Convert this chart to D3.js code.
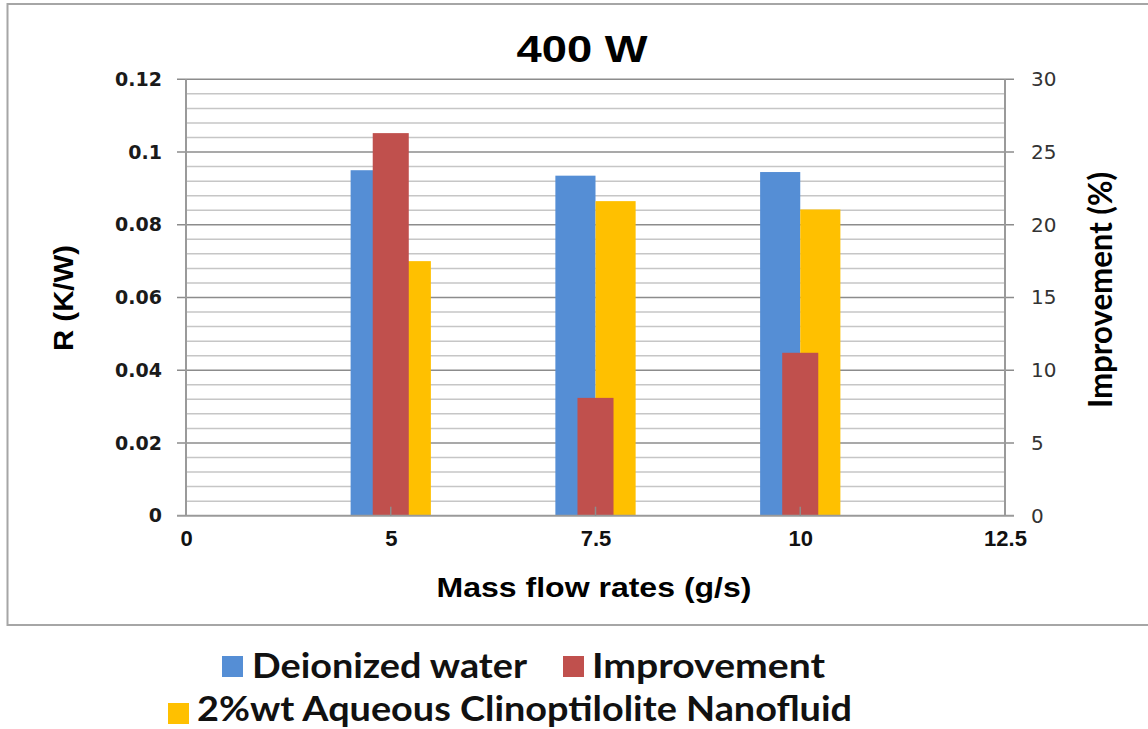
<!DOCTYPE html>
<html>
<head>
<meta charset="utf-8">
<script src="https://cdn.jsdelivr.net/npm/d3@7"></script>
<style>
  html, body { margin: 0; padding: 0; background: #fff; }
  svg { display: block; }
</style>
</head>
<body>
<svg id="chart" width="1148" height="729"></svg>
<script>
// Thermal resistance at 400 W versus mass flow rate
const categories = ["0", "5", "7.5", "10", "12.5"];
const deionizedWater = [null, 0.095, 0.0935, 0.0945, null];
const nanofluid = [null, 0.070, 0.0865, 0.0842, null];
const improvement = [null, 26.3, 8.1, 11.2, null];
const leftTicks = [0, 0.02, 0.04, 0.06, 0.08, 0.1, 0.12];
const leftTickLabels = ["0", "0.02", "0.04", "0.06", "0.08", "0.1", "0.12"];
const rightTicks = [0, 5, 10, 15, 20, 25, 30];

const colors = { water: "#558ED5", improvement: "#C0504D", nano: "#FFC000" };

const svg = d3.select("#chart");
const plot = { left: 186, right: 1005, top: 79.3, bottom: 515.7 };

// outer chart frame
svg.append("rect")
  .attr("x", 7.5).attr("y", 4).attr("width", 1150).attr("height", 621)
  .attr("fill", "#fff").attr("stroke", "#a6a6a6").attr("stroke-width", 2);

const x = d3.scalePoint().domain(categories).range([plot.left, plot.right]);
const yL = d3.scaleLinear().domain([0, 0.12]).range([plot.bottom, plot.top]);
const yR = d3.scaleLinear().domain([0, 30]).range([plot.bottom, plot.top]);

// gridlines: minor every 0.004, major every 0.02
const minor = d3.range(0, 0.1201, 0.004).filter(v => Math.abs(Math.round(v / 0.02) * 0.02 - v) > 1e-6);
svg.append("g").selectAll("line").data(minor).join("line")
  .attr("x1", plot.left).attr("x2", plot.right)
  .attr("y1", d => yL(d)).attr("y2", d => yL(d))
  .attr("stroke", "#c6c6c6").attr("stroke-width", 1.5);
svg.append("g").selectAll("line").data(leftTicks.slice(1)).join("line")
  .attr("x1", plot.left - 9).attr("x2", plot.right + 9)
  .attr("y1", d => yL(d)).attr("y2", d => yL(d))
  .attr("stroke", "#8c8c8c").attr("stroke-width", 1.5);

const step = x.step();
const wPrim = step * 0.196;
const wSec = step * 0.176;

// primary clustered bars
const rows = categories.map((c, i) => ({ c, water: deionizedWater[i], nano: nanofluid[i], imp: improvement[i] }));
svg.append("g").selectAll("rect").data(rows.filter(d => d.water != null)).join("rect")
  .attr("x", d => x(d.c) - wPrim).attr("width", wPrim)
  .attr("y", d => yL(d.water)).attr("height", d => yL(0) - yL(d.water))
  .attr("fill", colors.water);
svg.append("g").selectAll("rect").data(rows.filter(d => d.nano != null)).join("rect")
  .attr("x", d => x(d.c)).attr("width", wPrim)
  .attr("y", d => yL(d.nano)).attr("height", d => yL(0) - yL(d.nano))
  .attr("fill", colors.nano);
// secondary-axis bars, overlaid in the middle of each group
svg.append("g").selectAll("rect").data(rows.filter(d => d.imp != null)).join("rect")
  .attr("x", d => x(d.c) - wSec / 2).attr("width", wSec)
  .attr("y", d => yR(d.imp)).attr("height", d => yR(0) - yR(d.imp))
  .attr("fill", colors.improvement);

// axes lines
const axisColor = "#9a9a9a";
svg.append("line").attr("x1", plot.left).attr("x2", plot.left)
  .attr("y1", plot.top).attr("y2", plot.bottom).attr("stroke", axisColor).attr("stroke-width", 2);
svg.append("line").attr("x1", plot.right).attr("x2", plot.right)
  .attr("y1", plot.top).attr("y2", plot.bottom).attr("stroke", axisColor).attr("stroke-width", 2);
svg.append("line").attr("x1", plot.left - 9).attr("x2", plot.right + 9)
  .attr("y1", plot.bottom).attr("y2", plot.bottom).attr("stroke", axisColor).attr("stroke-width", 2);

// x ticks pointing up into the plot
svg.append("g").selectAll("line").data(categories.slice(1, -1)).join("line")
  .attr("x1", d => x(d)).attr("x2", d => x(d))
  .attr("y1", plot.bottom).attr("y2", plot.bottom - 9)
  .attr("stroke", "#8c8c8c").attr("stroke-width", 1.5);

// left axis labels
const leftAxis = d3.axisLeft(yL).tickValues(leftTicks)
  .tickFormat((d, i) => leftTickLabels[i]).tickSize(0).tickPadding(24);
const gL = svg.append("g").attr("transform", `translate(${plot.left},0)`).call(leftAxis);
gL.select(".domain").remove();
gL.selectAll("text").attr("font-family", "DejaVu Sans").attr("font-weight", "bold")
  .attr("font-size", 19).attr("fill", "#1a1a1a");

// right axis labels
const rightAxis = d3.axisRight(yR).tickValues(rightTicks).tickSize(0).tickPadding(26);
const gR = svg.append("g").attr("transform", `translate(${plot.right},0)`).call(rightAxis);
gR.select(".domain").remove();
gR.selectAll("text").attr("font-family", "DejaVu Sans")
  .attr("font-size", 20).attr("fill", "#333");

// x axis labels
const bottomAxis = d3.axisBottom(x).tickSize(0).tickPadding(15);
const gB = svg.append("g").attr("transform", `translate(0,${plot.bottom})`).call(bottomAxis);
gB.select(".domain").remove();
gB.selectAll("text").attr("font-family", "Liberation Sans").attr("font-weight", "bold")
  .attr("font-size", 22).attr("fill", "#111");

// titles
svg.append("text").attr("x", 582).attr("y", 62).attr("text-anchor", "middle")
  .attr("font-family", "Liberation Sans").attr("font-weight", "bold").attr("font-size", 36)
  .attr("textLength", 131).attr("lengthAdjust", "spacingAndGlyphs")
  .text("400 W");
svg.append("text").attr("x", 594).attr("y", 597).attr("text-anchor", "middle")
  .attr("font-family", "Liberation Sans").attr("font-weight", "bold").attr("font-size", 27)
  .attr("textLength", 315).attr("lengthAdjust", "spacingAndGlyphs")
  .text("Mass flow rates (g/s)");
svg.append("text").attr("transform", "translate(73,298) rotate(-90)").attr("text-anchor", "middle")
  .attr("font-family", "Liberation Sans").attr("font-weight", "bold").attr("font-size", 27)
  .attr("textLength", 106).attr("lengthAdjust", "spacingAndGlyphs")
  .text("R (K/W)");
svg.append("text").attr("transform", "translate(1112,290) rotate(-90)").attr("text-anchor", "middle")
  .attr("font-family", "Lato").attr("font-weight", "bold").attr("font-size", 32)
  .attr("textLength", 236).attr("lengthAdjust", "spacingAndGlyphs")
  .text("Improvement (%)");

// legend
const legend = [
  { label: "Deionized water", color: colors.water, x: 222, y: 656, tx: 252, ty: 678, w: 275 },
  { label: "Improvement", color: colors.improvement, x: 563, y: 656, tx: 592, ty: 678, w: 233 },
  { label: "2%wt Aqueous Clinoptilolite Nanofluid", color: colors.nano, x: 168, y: 703, tx: 197, ty: 721, w: 655 }
];
const lg = svg.append("g");
lg.selectAll("rect").data(legend).join("rect")
  .attr("x", d => d.x).attr("y", d => d.y).attr("width", 21).attr("height", 21)
  .attr("fill", d => d.color);
lg.selectAll("text").data(legend).join("text")
  .attr("x", d => d.tx).attr("y", d => d.ty)
  .attr("font-family", "Lato").attr("font-weight", "bold").attr("font-size", 34)
  .attr("fill", "#111")
  .attr("textLength", d => d.w).attr("lengthAdjust", "spacingAndGlyphs")
  .text(d => d.label);
</script>
</body>
</html>
